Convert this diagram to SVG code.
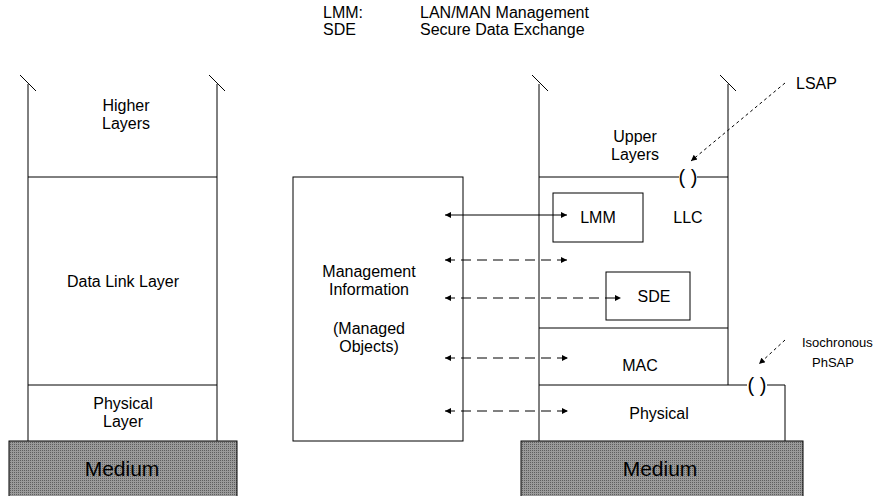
<svg xmlns="http://www.w3.org/2000/svg" width="876" height="496" viewBox="0 0 876 496">
<style>
text{font-family:"Liberation Sans",Arial,sans-serif;font-size:16px;fill:#000}
.c{text-anchor:middle}
.sm{font-size:13px}
.ln{stroke:#000;stroke-width:1;fill:none}
.box{stroke:#000;stroke-width:1;fill:#fff}
.med{stroke:#000;stroke-width:1;fill:url(#hatch)}
.big{font-size:21px}
.par{font-size:20px}
.sa{stroke:#000;stroke-width:1;fill:none;marker-start:url(#ah);marker-end:url(#ah)}
.da{stroke:#000;stroke-width:1;fill:none;stroke-dasharray:10,6;marker-start:url(#ah);marker-end:url(#ah)}
.pa{stroke:#000;stroke-width:1;fill:none;stroke-dasharray:3,3;marker-end:url(#ah)}
</style>
<defs>
<pattern id="hatch" width="2" height="2" patternUnits="userSpaceOnUse">
<rect width="2" height="2" fill="#9a9a9a"/>
<rect width="1" height="1" fill="#5e5e5e"/>
</pattern>
<marker id="ah" viewBox="0 0 10 10" refX="10" refY="5" markerWidth="8" markerHeight="6" markerUnits="userSpaceOnUse" orient="auto-start-reverse">
<path d="M0,0 L10,5 L0,10 z" fill="#000"/>
</marker>
</defs>

<g id="legend">
<text x="323" y="18">LMM:</text>
<text x="420" y="18">LAN/MAN Management</text>
<text x="323" y="35">SDE</text>
<text x="420" y="35">Secure Data Exchange</text>
</g>

<g id="left-stack">
<path class="ln" d="M28,84 V441 M217,84 V441 M20,75 L36,91 M209,75 L225,91 M28,177 H217 M28,385 H217"/>
<text class="c" x="126" y="111">Higher</text>
<text class="c" x="126" y="129">Layers</text>
<text class="c" x="123" y="287">Data Link Layer</text>
<text class="c" x="123" y="409">Physical</text>
<text class="c" x="123" y="427">Layer</text>
</g>
<g id="left-medium">
<rect class="med" x="9" y="441" width="228" height="60"/>
<text class="c big" x="122" y="476">Medium</text>
</g>

<g id="mgmt-info">
<rect class="box" x="293" y="177" width="170" height="264"/>
<text class="c" x="369" y="277">Management</text>
<text class="c" x="369" y="295">Information</text>
<text class="c" x="369" y="334">(Managed</text>
<text class="c" x="369" y="352">Objects)</text>
</g>

<g id="right-stack">
<path class="ln" d="M539,84 V441 M728,84 V385 M532,75 L548,91 M720,75 L736,91 M539,177 H679 M697,177 H728 M539,328 H728 M539,385 H747 M767,385 H785 V441"/>
<text class="c" x="635" y="142">Upper</text>
<text class="c" x="635" y="160">Layers</text>
<text class="c par" x="688" y="184">( )</text>
<text class="c" x="688" y="223">LLC</text>
<text class="c" x="640" y="371">MAC</text>
<text class="c par" x="757" y="392">( )</text>
<text class="c" x="659" y="419">Physical</text>
</g>
<g id="lmm">
<rect class="box" x="553" y="193" width="90" height="49"/>
<text class="c" x="598" y="223">LMM</text>
</g>
<g id="sde">
<rect class="box" x="606" y="272" width="84" height="48"/>
<text class="c" x="654" y="302">SDE</text>
</g>
<g id="right-medium">
<rect class="med" x="521" y="441" width="282" height="60"/>
<text class="c big" x="660" y="476">Medium</text>
</g>

<g id="lsap-label">
<text x="796" y="89">LSAP</text>
</g>
<g id="phsap-label">
<text class="sm" x="802" y="347">Isochronous</text>
<text class="sm" x="812" y="367">PhSAP</text>
</g>

<g id="connectors">
<path class="sa" d="M445,215 H567"/>
<path class="da" d="M445,260 H567"/>
<path class="da" d="M445,298 H621"/>
<path class="da" d="M445,358 H568"/>
<path class="da" d="M445,411 H568"/>
<path class="pa" d="M785,83 L691,161"/>
<path class="pa" d="M785,340 L759,364"/>
</g>
</svg>
